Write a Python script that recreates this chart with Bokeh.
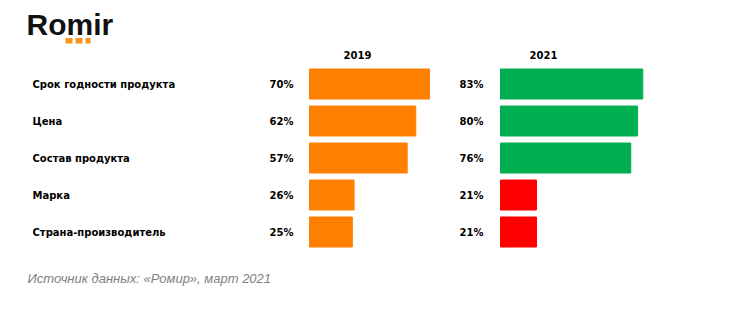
from bokeh.plotting import figure
from bokeh.models import ColumnDataSource, Range1d
from bokeh.core.properties import value
from bokeh.embed import file_html
from bokeh.resources import INLINE

# --- data ---
categories = ["Срок годности продукта", "Цена", "Состав продукта", "Марка", "Страна-производитель"]
share_2019 = [70, 62, 57, 26, 25]
share_2021 = [83, 80, 76, 21, 21]
years = ["2019", "2021"]
source_note = "Источник данных: «Ромир», март 2021"

# --- layout constants (pixels) ---
W, H = 730, 310
PX_PER_PCT = 1.714          # horizontal scale of a percentage point
ROW0, PITCH = 83.5, 37.0    # centre of first row, row spacing
BAR_H = 30.0 / PITCH

ORANGE = "#FF8000"
GREEN = "#00B050"
RED = "#FF0000"
BOLD_FONT = value("DejaVu Sans")
FONT = value("Liberation Sans")


def ux(px):
    return px / PX_PER_PCT


def uy(py):
    return (py - ROW0) / PITCH


p = figure(width=W, height=H, output_backend="svg", toolbar_location=None,
           x_range=Range1d(0, ux(W)), y_range=Range1d(uy(H), uy(0)),
           x_axis_location=None, y_axis_location=None, min_border=0)
p.grid.visible = False
p.outline_line_color = None
p.background_fill_color = "white"
p.border_fill_color = "white"

rows = list(range(len(categories)))
base19 = ux(309)
base21 = ux(500)
colors21 = [GREEN if v > 50 else RED for v in share_2021]

src = ColumnDataSource(dict(
    y=rows, cat=categories,
    v19=share_2019, v21=share_2021,
    l19=[base19] * len(rows), r19=[base19 + v for v in share_2019],
    l21=[base21] * len(rows), r21=[base21 + v for v in share_2021],
    t19=[f"{v}%" for v in share_2019], t21=[f"{v}%" for v in share_2021],
    c21=colors21,
))

p.hbar(y="y", left="l19", right="r19", height=BAR_H, source=src,
       fill_color=ORANGE, line_color=ORANGE)
p.hbar(y="y", left="l21", right="r21", height=BAR_H, source=src,
       fill_color="c21", line_color="c21")

label_style = dict(text_font=BOLD_FONT, text_font_style="bold",
                   text_font_size="10px", text_color="#000000",
                   text_baseline="middle")

# category names
p.text(x=ux(32), y="y", text="cat", source=src, text_align="left", **label_style)
# value labels
p.text(x=ux(293), y="y", text="t19", source=src, text_align="right", **label_style)
p.text(x=ux(483), y="y", text="t21", source=src, text_align="right", **label_style)

# panel headers
p.text(x=[ux(357), ux(543)], y=[uy(54)] * 2, text=years, text_align="center",
       **label_style)

# logo
p.text(x=[ux(26)], y=[uy(23.5)], text=["Romir"], text_font=FONT,
       text_font_style="bold", text_font_size="30px", text_color="#111111",
       text_baseline="middle", text_align="left")
p.quad(left=[ux(65), ux(75), ux(85)], right=[ux(72), ux(82), ux(90)],
       top=[uy(37.5)] * 3, bottom=[uy(43)] * 3,
       fill_color="#F7941D", line_color=None)

# source note
p.text(x=[ux(27)], y=[uy(278)], text=[source_note], text_font=FONT,
       text_font_style="italic", text_font_size="13px", text_color="#7F7F7F",
       text_baseline="middle", text_align="left")

open("out.html", "w").write(file_html(p, INLINE))
